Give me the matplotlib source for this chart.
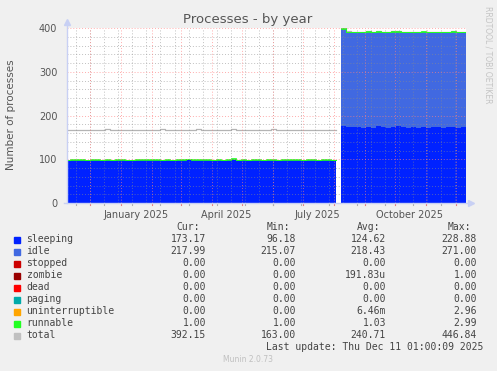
import numpy as np
import pandas as pd
import matplotlib
matplotlib.use("Agg")
import matplotlib.pyplot as plt
import matplotlib.transforms as mtransforms

nan = np.nan

# ---------------- data (5-day samples starting 2024-11-06) ----------------
start_date = "2024-11-06"
step_days = 5

sleeping = [98, 99, 98, 99, 98, 99, 99, 98, 99, 98,
            99, 99, 98, 98, 99, 99, 98, 99, 99, 98,
            99, 98, 99, 99, 100, 99, 98, 99, 99, 98,
            99, 98, 99, 100, 98, 99, 98, 99, 99, 98,
            99, 99, 98, 99, 99, 98, 99, 98, 99, 99,
            98, 99, 99, 98,
            nan,
            176, 174, 173, 173, 172, 173, 172, 175, 173, 172,
            173, 176, 173, 172, 173, 172, 173, 172, 173, 173,
            172, 173, 173, 172, 173, 173]

idle = [0] * 54 + [nan] + [
        221, 217, 218, 218, 218, 218, 218, 217, 218, 218,
        218, 216, 218, 218, 218, 218, 218, 218, 218, 218,
        218, 218, 218, 218, 218, 218]

runnable = [1, 1, 2, 1, 1, 1, 2, 1, 1, 1,
            1, 2, 1, 1, 1, 1, 2, 1, 1, 1,
            1, 1, 2, 1, 1, 1, 2, 1, 1, 1,
            2, 1, 1, 2, 1, 1, 1, 2, 1, 1,
            1, 2, 1, 1, 1, 2, 1, 1, 1, 2,
            1, 1, 2, 1,
            nan,
            2, 1, 1, 1, 1, 2, 1, 1, 1, 1,
            2, 1, 1, 1, 1, 1, 2, 1, 1, 1,
            1, 1, 2, 1, 1, 1]

total = [168, 168, 167, 168, 168, 167, 168, 168, 169, 168,
         168, 167, 168, 168, 168, 167, 168, 168, 168, 169,
         168, 168, 168, 167, 168, 168, 169, 168, 168, 168,
         168, 168, 168, 170, 168, 168, 167, 168, 168, 168,
         168, 169, 168, 168, 167, 168, 168, 168, 168, 168,
         168, 167, 168, 168,
         nan,
         400, 393, 392, 392, 392, 393, 392, 393, 392, 392,
         393, 393, 392, 392, 392, 391, 392, 392, 392, 392,
         391, 392, 393, 391, 392, 392]

zeros = [0] * 81
stopped = zeros
zombie = zeros
dead = zeros
paging = zeros
uninterruptible = zeros

series_names = ["sleeping", "idle", "stopped", "zombie", "dead", "paging",
                "uninterruptible", "runnable", "total"]
series_colors = ["#0022ff", "#4169e1", "#cc0000", "#990000", "#ff0000",
                 "#00aaaa", "#ffa500", "#22ff22", "#c0c0c0"]
cur_vals = ["173.17", "217.99", "0.00", "0.00", "0.00", "0.00", "0.00", "1.00", "392.15"]
min_vals = ["96.18", "215.07", "0.00", "0.00", "0.00", "0.00", "0.00", "1.00", "163.00"]
avg_vals = ["124.62", "218.43", "0.00", "191.83u", "0.00", "0.00", "6.46m", "1.03", "240.71"]
max_vals = ["228.88", "271.00", "0.00", "1.00", "0.00", "0.00", "2.96", "2.99", "446.84"]

x_labels = ["January 2025", "April 2025", "July 2025", "October 2025"]
x_label_dates = ["2025-01-16", "2025-04-16", "2025-07-16", "2025-10-16"]
y_ticks = [0, 100, 200, 300, 400]

# ---------------- figure ----------------
W, H = 497, 371
fig = plt.figure(figsize=(W / 100, H / 100), dpi=100, facecolor="#f0f0f0")
L, R, T, B = 67, 466, 28, 203
ax = fig.add_axes([L / W, 1 - B / H, (R - L) / W, (B - T) / H])
ax.set_facecolor("white")

n = len(sleeping)
edges = pd.date_range(start_date, periods=n + 1, freq=f"{step_days}D")
# step arrays: each sample holds its value until the next sample
xs = np.repeat(edges.values, 2)[1:-1]


def stepped(v):
    return np.repeat(np.asarray(v, float), 2)


stack = [sleeping, idle, stopped, zombie, dead, paging, uninterruptible, runnable]
base = np.zeros(n)
# total line first (drawn under areas)
ax.plot(xs, stepped(total), color="#b4b4b4", lw=0.9, zorder=2)
for i, (vals, col) in enumerate(zip(stack, series_colors[:8])):
    v = np.array(vals, float)
    top = base + v
    if i == 7:
        ax.fill_between(xs, stepped(base), stepped(top), facecolor=col, edgecolor=col,
                        lw=0.5, zorder=3)
    else:
        ax.fill_between(xs, stepped(base), stepped(top), color=col, lw=0, zorder=3)
    base = top

xmin = pd.Timestamp("2024-11-07 16:00")
xmax = pd.Timestamp("2025-12-11 01:00")
ax.set_xlim(xmin, xmax)
ax.set_ylim(0, 400)

# grid (drawn on top like rrdtool)
mgrid = (1.0, 0.5, 0.5, 0.65)
grid = (0.55, 0.55, 0.55, 0.55)
dash = (0, (1, 2))
for yv in range(20, 400, 20):
    if yv % 100:
        ax.axhline(yv, color=grid, lw=0.7, ls=dash, zorder=5)
for yv in y_ticks[1:]:
    ax.axhline(yv, color=mgrid, lw=0.7, ls=dash, zorder=6)
minor_dates = pd.date_range("2024-11-17", xmax, freq="14D")
for d in minor_dates:
    ax.axvline(d, color=grid, lw=0.7, ls=dash, zorder=5)
month_starts = pd.date_range("2024-12-01", xmax, freq="MS")
for d in month_starts:
    ax.axvline(d, color=mgrid, lw=0.7, ls=dash, zorder=6)

for s in ax.spines.values():
    s.set_visible(False)

# ticks
ax.set_yticks(y_ticks)
ax.set_yticklabels([str(v) for v in y_ticks])
ax.tick_params(axis="y", length=0, pad=7, labelsize=7, labelcolor="#555555")
ax.set_xticks([pd.Timestamp(d) for d in x_label_dates])
ax.set_xticklabels(x_labels)
ax.tick_params(axis="x", length=0, pad=5, labelsize=7, labelcolor="#555555")

# small axis tick marks below the x axis
trans_x = mtransforms.blended_transform_factory(ax.transData, ax.transAxes)
for d in month_starts:
    ax.plot([d, d], [0, -0.012], transform=trans_x, color="#e88080", lw=0.8, clip_on=False, zorder=7)
for d in pd.date_range("2024-11-17", xmax, freq="28D"):
    ax.plot([d, d], [0, -0.012], transform=trans_x, color="#b0b0b0", lw=0.8, clip_on=False, zorder=7)

# axis lines with arrows
axis_col = "#c8d0f4"
ax.plot([0, 0], [0, 1.03], transform=ax.transAxes, color=axis_col, lw=1.0, clip_on=False, zorder=8)
ax.plot([-0.008, 1.01], [0, 0], transform=ax.transAxes, color=axis_col, lw=1.0, clip_on=False, zorder=8)
ax.plot([0], [1.035], transform=ax.transAxes, marker="^", ms=4, color=axis_col, clip_on=False, zorder=8)
ax.plot([1.013], [0], transform=ax.transAxes, marker=">", ms=4, color=axis_col, clip_on=False, zorder=8)

# titles
fig.text(248 / W, 1 - 19 / H, "Processes - by year", ha="center", va="center",
         fontsize=9.5, color="#555555")
fig.text(11 / W, 1 - 115 / H, "Number of processes", ha="center", va="center",
         rotation=90, fontsize=7.5, color="#555555")
fig.text(488 / W, 1 - 55 / H, "RRDTOOL / TOBI OETIKER", ha="center", va="center",
         rotation=270, fontsize=5.5, color="#c4c4c4")

# legend
mono = "DejaVu Sans Mono"
fs = 7
tc = "#444444"
col_right = [206, 296, 386, 477]
hdr_right = [200, 290, 380, 471]
for xr, h in zip(hdr_right, ["Cur:", "Min:", "Avg:", "Max:"]):
    fig.text(xr / W, 1 - 227.5 / H, h, ha="right", va="center", family=mono, fontsize=fs, color=tc)
for i, name in enumerate(series_names):
    y = 239.5 + 12 * i
    fig.patches.append(plt.Rectangle((14 / W, 1 - (y + 3) / H), 6 / W, 6 / H,
                                     transform=fig.transFigure, color=series_colors[i], figure=fig))
    fig.text(26.5 / W, 1 - y / H, name, ha="left", va="center", family=mono, fontsize=fs, color=tc)
    for xr, vals in zip(col_right, [cur_vals, min_vals, avg_vals, max_vals]):
        fig.text(xr / W, 1 - y / H, vals[i], ha="right", va="center", family=mono, fontsize=fs, color=tc)
fig.text(483 / W, 1 - 347.5 / H, "Last update: Thu Dec 11 01:00:09 2025", ha="right", va="center",
         family=mono, fontsize=fs, color=tc)
fig.text(248 / W, 1 - 360 / H, "Munin 2.0.73", ha="center", va="center",
         fontsize=5.5, color="#c0c0c0")

fig.savefig("out.png", dpi=100, facecolor=fig.get_facecolor())
